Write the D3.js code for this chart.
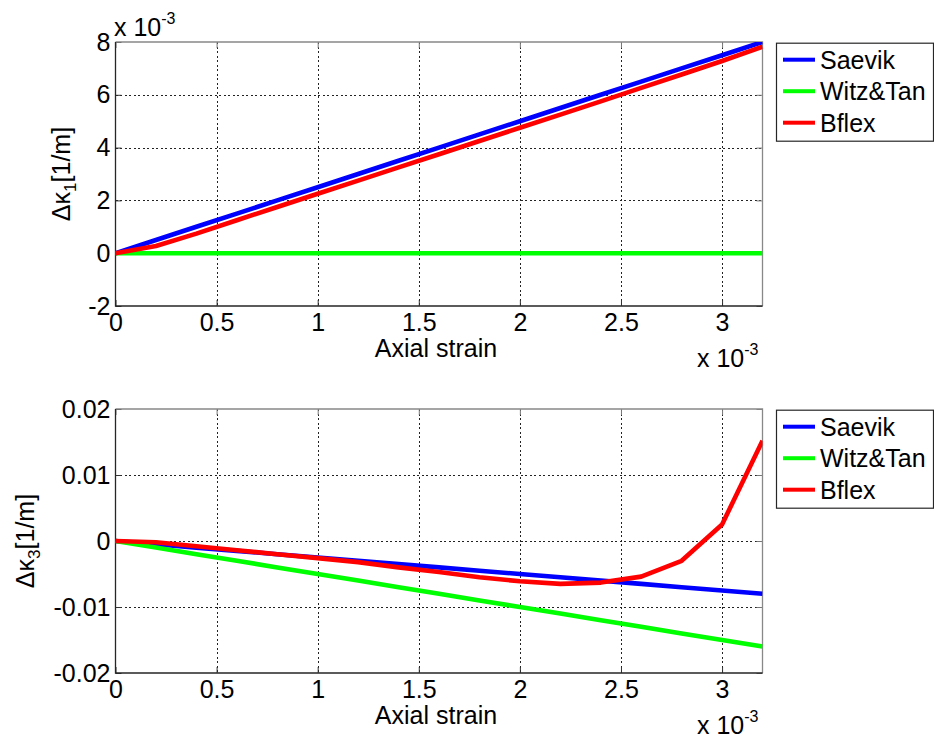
<!DOCTYPE html>
<html>
<head>
<meta charset="utf-8">
<script src="https://cdn.jsdelivr.net/npm/d3@7"></script>
<style>
  html, body { margin: 0; padding: 0; background: #fff; }
  svg { display: block; }
  text { font-family: Arial, "Liberation Sans", sans-serif; fill: #000; }
</style>
</head>
<body>
<svg id="chart" width="934" height="740"></svg>
<script>
// Axial strain samples (units of 1e-3)
const strain = [0, 0.2, 0.4, 0.6, 0.8, 1.0, 1.2, 1.4, 1.6, 1.8, 2.0, 2.2, 2.4, 2.6, 2.8, 3.0, 3.2];

// Δκ1 (units of 1e-3 1/m)
const k1Saevik = [0, 0.5, 1.0, 1.5, 2.0, 2.5, 3.0, 3.5, 4.0, 4.5, 5.0, 5.5, 6.0, 6.5, 7.0, 7.5, 8.0];
const k1WitzTan = [0, 0, 0, 0, 0, 0, 0, 0, 0, 0, 0, 0, 0, 0, 0, 0, 0];
const k1Bflex = [0, 0.27, 0.74, 1.25, 1.75, 2.25, 2.75, 3.25, 3.75, 4.25, 4.75, 5.25, 5.75, 6.26, 6.77, 7.28, 7.82];

// Δκ3 (1/m)
const k3Saevik = [0, -0.0005, -0.001, -0.0015, -0.002, -0.0025, -0.003, -0.0035, -0.004, -0.0045, -0.005, -0.0055, -0.006, -0.0065, -0.007, -0.0075, -0.008];
const k3WitzTan = [0, -0.001, -0.002, -0.003, -0.004, -0.005, -0.006, -0.007, -0.008, -0.009, -0.010, -0.011, -0.012, -0.013, -0.014, -0.015, -0.016];
const k3Bflex = [0, -0.0002, -0.0008, -0.0014, -0.0020, -0.0026, -0.0032, -0.0040, -0.0047, -0.0055, -0.0061, -0.0065, -0.0063, -0.0054, -0.0030, 0.0025, 0.0152];

const seriesNames = ["Saevik", "Witz&Tan", "Bflex"];
const seriesColors = ["#0000ff", "#00ff00", "#ff0000"];

const xTicks = [0, 0.5, 1, 1.5, 2, 2.5, 3];
const xTickLabels = ["0", "0.5", "1", "1.5", "2", "2.5", "3"];
const y1Ticks = [-2, 0, 2, 4, 6, 8];
const y1TickLabels = ["-2", "0", "2", "4", "6", "8"];
const y3Ticks = [-0.02, -0.01, 0, 0.01, 0.02];
const y3TickLabels = ["-0.02", "-0.01", "0", "0.01", "0.02"];

const svg = d3.select("#chart");
const FS = 25;

function panel(cfg) {
  const { top, bottom, yDomain, yTicks, yTickLabels, series, labelSub, labelX, showYExp, id } = cfg;
  const left = 115.5, right = 762.5;
  const x = d3.scaleLinear().domain([0, 3.2]).range([left, right]);
  const y = d3.scaleLinear().domain(yDomain).range([bottom, top]);
  const g = svg.append("g");

  g.append("clipPath").attr("id", id).append("rect")
    .attr("x", left).attr("y", top).attr("width", right - left).attr("height", bottom - top);

  // grid
  const grid = g.append("g").attr("stroke", "#222").attr("stroke-width", 1)
    .attr("stroke-dasharray", "2,2.5").attr("shape-rendering", "crispEdges");
  xTicks.slice(1).forEach(t => {
    grid.append("line").attr("x1", Math.round(x(t)) + 0.5).attr("x2", Math.round(x(t)) + 0.5)
      .attr("y1", top).attr("y2", bottom);
  });
  yTicks.slice(1, -1).forEach(t => {
    grid.append("line").attr("x1", left).attr("x2", right)
      .attr("y1", Math.round(y(t)) + 0.5).attr("y2", Math.round(y(t)) + 0.5);
  });

  // axes through D3 axis generators (inward ticks)
  g.append("g").attr("transform", `translate(0,${bottom})`)
    .call(d3.axisBottom(x).tickValues(xTicks).tickSize(-6).tickPadding(7)
      .tickFormat((d, i) => xTickLabels[i]))
    .call(a => a.select(".domain").remove())
    .call(a => a.selectAll("line").attr("stroke", "#333"))
    .call(a => a.selectAll("text").attr("font-size", FS).attr("font-family", "Arial, 'Liberation Sans'")
      .attr("fill", "#000").attr("dy", "0.72em"));
  g.append("g").attr("transform", `translate(${left},0)`)
    .call(d3.axisLeft(y).tickValues(yTicks).tickSize(-6).tickPadding(5)
      .tickFormat((d, i) => yTickLabels[i]))
    .call(a => a.select(".domain").remove())
    .call(a => a.selectAll("line").attr("stroke", "#333"))
    .call(a => a.selectAll("text").attr("font-size", FS).attr("font-family", "Arial, 'Liberation Sans'")
      .attr("fill", "#000"));
  // mirrored ticks on top and right edges
  g.append("g").attr("transform", `translate(0,${top})`)
    .call(d3.axisTop(x).tickValues(xTicks).tickSize(-6).tickFormat(""))
    .call(a => a.select(".domain").remove())
    .call(a => a.selectAll("line").attr("stroke", "#777"));
  g.append("g").attr("transform", `translate(${right},0)`)
    .call(d3.axisRight(y).tickValues(yTicks).tickSize(-6).tickFormat(""))
    .call(a => a.select(".domain").remove())
    .call(a => a.selectAll("line").attr("stroke", "#777"));

  // box
  g.append("path").attr("d", `M${left},${top}H${right}V${bottom}`)
    .attr("fill", "none").attr("stroke", "#888").attr("stroke-width", 1.3);
  g.append("path").attr("d", `M${left},${top}V${bottom}H${right}`)
    .attr("fill", "none").attr("stroke", "#262626").attr("stroke-width", 1.3);

  // data lines
  const line = d3.line().x((d, i) => x(strain[i])).y(d => y(d));
  const lines = g.append("g").attr("clip-path", `url(#${id})`);
  series.forEach((s, k) => {
    lines.append("path").datum(s).attr("d", line)
      .attr("fill", "none").attr("stroke", seriesColors[k]).attr("stroke-width", 4.6)
      .attr("stroke-linejoin", "round").attr("stroke-linecap", "butt");
  });

  // x label
  g.append("text").attr("x", (left + right) / 2 - 3).attr("y", bottom + 51)
    .attr("text-anchor", "middle").attr("font-size", FS).text("Axial strain");

  // x exponent
  const xe = g.append("text").attr("x", 697).attr("y", bottom + 61).attr("font-size", FS);
  xe.append("tspan").text("x 10");
  xe.append("tspan").attr("font-size", 16).attr("dy", -12).text("-3");

  if (showYExp) {
    const ye = g.append("text").attr("x", 114).attr("y", top - 6).attr("font-size", FS);
    ye.append("tspan").text("x 10");
    ye.append("tspan").attr("font-size", 16).attr("dy", -12).text("-3");
  }

  // y label
  const yl = g.append("text")
    .attr("transform", `translate(${labelX},${(top + bottom) / 2}) rotate(-90)`)
    .attr("text-anchor", "middle").attr("font-size", FS);
  yl.append("tspan").text("Δκ");
  yl.append("tspan").attr("font-size", 17).attr("dy", 6).text(labelSub);
  yl.append("tspan").attr("dy", -6).text("[1/m]");

  // legend
  const lx = 776, ly = top + 0.7, lw = 157, lh = 98;
  const lg = g.append("g");
  lg.append("rect").attr("x", lx + 0.5).attr("y", ly + 0.5).attr("width", lw).attr("height", lh)
    .attr("fill", "#fff").attr("stroke", "#262626").attr("stroke-width", 1.2);
  seriesNames.forEach((name, k) => {
    const cy = ly + 17 + k * 31.5;
    lg.append("line").attr("x1", lx + 7).attr("x2", lx + 39).attr("y1", cy).attr("y2", cy)
      .attr("stroke", seriesColors[k]).attr("stroke-width", 4);
    lg.append("text").attr("x", lx + 44).attr("y", cy + 9).attr("font-size", FS).text(name);
  });
}

panel({ id: "clipTop", top: 42, bottom: 306, yDomain: [-2, 8], yTicks: y1Ticks, yTickLabels: y1TickLabels,
        series: [k1Saevik, k1WitzTan, k1Bflex], labelSub: "1", labelX: 70, showYExp: true });
panel({ id: "clipBot", top: 409, bottom: 673, yDomain: [-0.02, 0.02], yTicks: y3Ticks, yTickLabels: y3TickLabels,
        series: [k3Saevik, k3WitzTan, k3Bflex], labelSub: "3", labelX: 34, showYExp: false });
</script>
</body>
</html>
